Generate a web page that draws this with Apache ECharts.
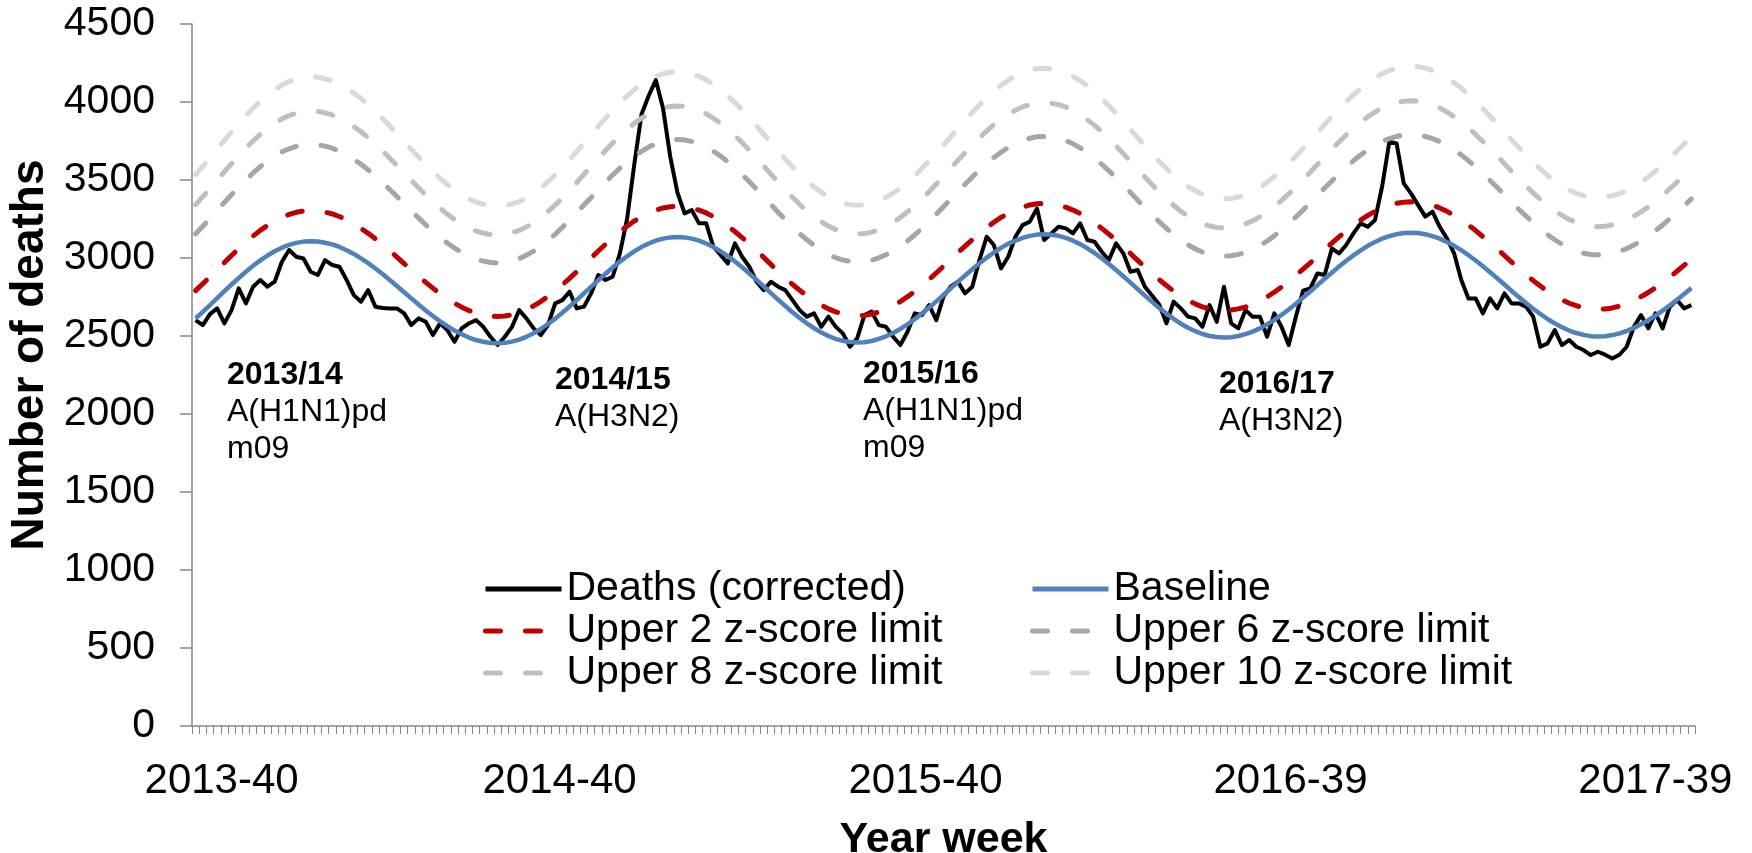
<!DOCTYPE html>
<html>
<head>
<meta charset="utf-8">
<script src="https://cdn.jsdelivr.net/npm/echarts@6/dist/echarts.min.js"></script>
<style>
html,body{margin:0;padding:0;background:#fff;}
#chart{width:1752px;height:853px;}
</style>
</head>
<body>
<div id="chart"></div>
<script>
const weeks = [
"2013-40","2013-41","2013-42","2013-43","2013-44","2013-45","2013-46","2013-47","2013-48","2013-49","2013-50","2013-51","2013-52",
"2014-01","2014-02","2014-03","2014-04","2014-05","2014-06","2014-07","2014-08","2014-09","2014-10","2014-11","2014-12","2014-13",
"2014-14","2014-15","2014-16","2014-17","2014-18","2014-19","2014-20","2014-21","2014-22","2014-23","2014-24","2014-25","2014-26",
"2014-27","2014-28","2014-29","2014-30","2014-31","2014-32","2014-33","2014-34","2014-35","2014-36","2014-37","2014-38","2014-39",
"2014-40","2014-41","2014-42","2014-43","2014-44","2014-45","2014-46","2014-47","2014-48","2014-49","2014-50","2014-51","2014-52",
"2015-01","2015-02","2015-03","2015-04","2015-05","2015-06","2015-07","2015-08","2015-09","2015-10","2015-11","2015-12","2015-13",
"2015-14","2015-15","2015-16","2015-17","2015-18","2015-19","2015-20","2015-21","2015-22","2015-23","2015-24","2015-25","2015-26",
"2015-27","2015-28","2015-29","2015-30","2015-31","2015-32","2015-33","2015-34","2015-35","2015-36","2015-37","2015-38","2015-39",
"2015-40","2015-41","2015-42","2015-43","2015-44","2015-45","2015-46","2015-47","2015-48","2015-49","2015-50","2015-51","2015-52","2015-53",
"2016-01","2016-02","2016-03","2016-04","2016-05","2016-06","2016-07","2016-08","2016-09","2016-10","2016-11","2016-12","2016-13",
"2016-14","2016-15","2016-16","2016-17","2016-18","2016-19","2016-20","2016-21","2016-22","2016-23","2016-24","2016-25","2016-26",
"2016-27","2016-28","2016-29","2016-30","2016-31","2016-32","2016-33","2016-34","2016-35","2016-36","2016-37","2016-38","2016-39",
"2016-40","2016-41","2016-42","2016-43","2016-44","2016-45","2016-46","2016-47","2016-48","2016-49","2016-50","2016-51","2016-52",
"2017-01","2017-02","2017-03","2017-04","2017-05","2017-06","2017-07","2017-08","2017-09","2017-10","2017-11","2017-12","2017-13",
"2017-14","2017-15","2017-16","2017-17","2017-18","2017-19","2017-20","2017-21","2017-22","2017-23","2017-24","2017-25","2017-26",
"2017-27","2017-28","2017-29","2017-30","2017-31","2017-32","2017-33","2017-34","2017-35","2017-36","2017-37","2017-38","2017-39"
];

const xTickLabels = ["2013-40","2014-40","2015-40","2016-39","2017-39"];

const deaths = [
2602,2570,2640,2677,2581,2666,2805,2709,2816,2859,
2816,2848,2976,3051,3008,2997,2912,2891,2987,2955,
2944,2859,2762,2720,2794,2688,2680,2677,2677,2645,
2570,2613,2591,2506,2581,2538,2463,2549,2580,2602,
2559,2495,2442,2495,2559,2666,2613,2549,2506,2570,
2709,2730,2784,2677,2688,2773,2891,2859,2880,3030,
3250,3600,3920,4040,4140,3960,3650,3420,3286,3307,
3222,3222,3072,3020,2965,3094,3008,2944,2848,2794,
2848,2816,2794,2730,2666,2624,2645,2559,2624,2560,
2517,2431,2485,2634,2656,2570,2559,2495,2442,2527,
2645,2634,2698,2602,2752,2816,2848,2773,2816,2987,
3136,3083,2933,3008,3136,3211,3233,3318,3115,3158,
3200,3190,3158,3222,3115,3104,3040,2987,3094,3030,
2912,2923,2816,2760,2700,2581,2720,2677,2624,2613,
2559,2698,2591,2816,2581,2549,2666,2624,2624,2495,
2645,2559,2442,2624,2790,2805,2901,2891,3061,3030,
3083,3158,3222,3200,3243,3460,3745,3735,3478,3414,
3339,3265,3297,3200,3126,3030,2859,2741,2741,2645,
2741,2677,2773,2709,2709,2688,2624,2431,2453,2538,
2442,2474,2431,2410,2378,2399,2380,2356,2380,2431,
2559,2634,2549,2645,2549,2688,2730,2677,2698
];

const baseline = [
2613,2655,2698,2743,2787,2830,2872,2912,2950,2985,
3016,3043,3066,3084,3097,3105,3108,3106,3098,3087,
3071,3050,3026,2998,2967,2933,2897,2859,2820,2780,
2741,2702,2664,2628,2594,2563,2535,2511,2490,2474,
2463,2455,2453,2456,2464,2477,2495,2518,2545,2577,
2611,2649,2689,2730,2773,2815,2858,2899,2939,2977,
3011,3043,3070,3093,3111,3124,3132,3135,3132,3124,
3111,3093,3070,3043,3012,2978,2941,2901,2860,2818,
2775,2733,2692,2652,2615,2581,2550,2523,2500,2482,
2469,2461,2458,2460,2468,2481,2498,2519,2545,2575,
2608,2644,2682,2722,2763,2805,2847,2888,2928,2966,
3002,3035,3065,3091,3112,3129,3142,3150,3152,3149,
3142,3129,3111,3089,3062,3032,2998,2962,2923,2883,
2842,2800,2759,2719,2680,2644,2610,2579,2553,2531,
2513,2500,2493,2490,2492,2500,2512,2528,2549,2574,
2603,2635,2670,2707,2746,2785,2826,2867,2906,2945,
2982,3017,3049,3078,3103,3124,3140,3152,3160,3162,
3160,3152,3140,3124,3103,3078,3050,3018,2984,2947,
2909,2870,2830,2789,2750,2712,2675,2641,2609,2581,
2556,2535,2519,2507,2499,2497,2499,2506,2517,2532,
2552,2575,2601,2631,2663,2697,2733,2770,2807
];

const upper2 = [
2791,2835,2879,2926,2971,3016,3060,3101,3141,3177,
3209,3237,3261,3279,3293,3301,3304,3302,3294,3283,
3266,3244,3219,3190,3158,3123,3086,3046,3006,2964,
2924,2883,2844,2807,2771,2739,2710,2685,2663,2647,
2635,2627,2625,2628,2637,2650,2669,2693,2721,2754,
2789,2828,2870,2912,2957,3001,3045,3088,3129,3168,
3204,3237,3265,3289,3307,3321,3329,3332,3329,3321,
3307,3289,3265,3237,3205,3170,3131,3090,3047,3004,
2959,2915,2873,2831,2793,2758,2726,2698,2674,2655,
2642,2633,2630,2632,2641,2654,2672,2694,2721,2752,
2786,2823,2863,2904,2947,2990,3034,3076,3118,3157,
3194,3229,3260,3287,3308,3326,3340,3348,3350,3347,
3340,3326,3307,3285,3257,3226,3190,3153,3113,3071,
3029,2985,2942,2901,2861,2823,2788,2756,2729,2706,
2687,2674,2667,2663,2666,2674,2686,2703,2725,2751,
2781,2814,2850,2889,2929,2969,3012,3054,3095,3135,
3174,3210,3243,3273,3299,3321,3338,3350,3358,3360,
3358,3350,3338,3321,3299,3273,3244,3211,3176,3137,
3098,3058,3016,2974,2933,2894,2855,2820,2787,2758,
2732,2710,2694,2681,2673,2671,2673,2680,2691,2707,
2728,2752,2779,2810,2843,2878,2915,2954,2992
];

const upper6 = [
3154,3203,3253,3305,3356,3406,3455,3501,3545,3586,
3622,3653,3680,3700,3716,3725,3728,3726,3717,3704,
3685,3661,3633,3601,3565,3525,3484,3439,3394,3348,
3303,3257,3213,3171,3132,3096,3064,3036,3011,2993,
2980,2971,2968,2972,2981,2996,3017,3044,3075,3112,
3152,3196,3242,3290,3340,3388,3438,3486,3532,3576,
3616,3653,3684,3711,3732,3747,3756,3760,3756,3747,
3732,3711,3684,3653,3617,3577,3535,3488,3441,3392,
3342,3293,3246,3199,3156,3117,3081,3050,3023,3002,
2987,2978,2974,2977,2986,3001,3021,3045,3075,3110,
3148,3190,3234,3281,3328,3377,3426,3473,3519,3564,
3605,3644,3678,3709,3733,3753,3768,3777,3779,3776,
3768,3753,3732,3706,3675,3640,3601,3559,3514,3467,
3420,3371,3323,3277,3232,3190,3151,3115,3084,3059,
3038,3023,3015,3011,3014,3023,3037,3055,3080,3109,
3142,3180,3220,3263,3308,3354,3401,3449,3494,3539,
3582,3623,3660,3693,3722,3747,3765,3779,3789,3791,
3789,3779,3765,3747,3722,3693,3661,3624,3584,3542,
3497,3452,3406,3358,3313,3269,3226,3187,3149,3117,
3088,3064,3045,3031,3022,3020,3022,3030,3043,3060,
3083,3110,3140,3175,3212,3252,3293,3336,3379
];

const upper8 = [
3342,3393,3445,3499,3553,3605,3656,3704,3751,3793,
3831,3863,3891,3913,3929,3939,3942,3940,3930,3917,
3897,3872,3843,3809,3771,3730,3686,3640,3593,3544,
3497,3450,3404,3360,3319,3281,3247,3218,3193,3173,
3160,3150,3148,3151,3161,3177,3199,3226,3259,3298,
3339,3385,3434,3484,3536,3587,3639,3689,3737,3783,
3824,3863,3896,3924,3946,3962,3971,3975,3971,3962,
3946,3924,3896,3863,3826,3784,3740,3691,3641,3590,
3538,3487,3438,3389,3344,3303,3265,3233,3205,3183,
3167,3157,3154,3156,3166,3182,3202,3228,3259,3296,
3336,3379,3425,3474,3524,3575,3626,3675,3724,3770,
3814,3854,3890,3922,3947,3968,3983,3993,3996,3992,
3983,3968,3946,3919,3886,3850,3809,3765,3718,3669,
3619,3569,3519,3470,3423,3379,3338,3300,3269,3242,
3220,3205,3196,3193,3195,3205,3219,3239,3264,3294,
3330,3368,3411,3456,3503,3550,3600,3650,3697,3744,
3789,3832,3871,3906,3936,3962,3981,3996,4005,4008,
4005,3996,3981,3962,3936,3906,3872,3833,3792,3747,
3701,3653,3605,3555,3508,3462,3417,3376,3337,3303,
3273,3247,3228,3213,3203,3201,3203,3212,3225,3243,
3268,3296,3327,3364,3402,3444,3487,3532,3577
];

const upper10 = [
3534,3588,3642,3699,3755,3809,3862,3913,3961,4005,
4045,4079,4108,4131,4147,4157,4161,4159,4148,4134,
4114,4088,4057,4022,3983,3940,3894,3846,3796,3746,
3696,3647,3599,3553,3510,3471,3436,3405,3379,3358,
3344,3334,3332,3336,3346,3362,3385,3414,3448,3489,
3532,3580,3631,3682,3737,3790,3845,3896,3947,3995,
4038,4079,4113,4142,4165,4181,4191,4195,4191,4181,
4165,4142,4113,4079,4039,3996,3950,3899,3847,3794,
3739,3686,3634,3584,3537,3494,3455,3420,3391,3369,
3352,3342,3338,3341,3351,3367,3389,3415,3448,3486,
3528,3574,3622,3672,3724,3777,3831,3883,3933,3981,
4027,4069,4107,4140,4166,4188,4204,4214,4217,4213,
4204,4188,4165,4137,4103,4065,4022,3976,3927,3876,
3824,3771,3719,3669,3619,3574,3531,3491,3458,3431,
3408,3391,3382,3379,3381,3391,3406,3427,3453,3485,
3522,3562,3607,3653,3703,3752,3804,3856,3905,3955,
4002,4046,4086,4123,4155,4181,4202,4217,4227,4229,
4227,4217,4202,4181,4155,4123,4088,4047,4004,3957,
3909,3860,3809,3757,3708,3660,3613,3570,3529,3494,
3462,3436,3415,3400,3390,3388,3390,3399,3413,3432,
3457,3486,3519,3557,3598,3641,3686,3733,3780
];

const seasonNames = ["2013/14","2014/15","2015/16","2016/17"];
const seasonViruses = [["A(H1N1)pd","m09"],["A(H3N2)"],["A(H1N1)pd","m09"],["A(H3N2)"]];

const FONT = "'Liberation Sans', Arial, Helvetica, sans-serif";
const chart = echarts.init(document.getElementById('chart'), null, {renderer:'canvas'});

const annPos = [[227,359],[555,364],[863,358],[1219,368]];
const graphics = seasonNames.map((s, i) => ({
  type: 'text',
  left: annPos[i][0],
  top: annPos[i][1],
  style: {
    text: '{b|' + s + '}\n' + seasonViruses[i].map(v => '{n|' + v + '}').join('\n'),
    fill: '#000',
    rich: {
      b: {fontFamily: FONT, fontSize: 32, fontWeight: 'bold', lineHeight: 37, fill:'#000'},
      n: {fontFamily: FONT, fontSize: 32, lineHeight: 37, fill:'#000'}
    }
  }
}));

const dash = [15, 25];
function lineSeries(name, data, color, width, dashed) {
  return {
    name, type: 'line', data,
    showSymbol: false, symbol: 'none',
    lineStyle: {color, width, type: dashed ? dash : 'solid', cap: dashed ? 'round' : 'butt', join:'round'},
    itemStyle: {color},
    emphasis: {disabled: true},
    z: 2
  };
}

const legendCommon = {
  orient: 'vertical',
  padding: 0,
  itemWidth: 76, itemHeight: 14, itemGap: 0,
  itemStyle: {opacity: 0},
  lineStyle: {width: 5},
  textStyle: {fontFamily: FONT, fontSize: 41, color: '#000', lineHeight: 42},
  selectedMode: false
};

// horizontal nudges of the tick labels, as placed in the original
const xLabelPad = [[0,0,0,52],[0,20,0,0],[0,36,0,0],[0,54,0,0],[0,72,0,0]];
const xLabelRich = {};
xLabelPad.forEach((p, i) => {
  xLabelRich['l' + i] = {fontFamily: FONT, fontSize: 42, color: '#000', padding: p};
});

chart.setOption({
  animation: false,
  backgroundColor: '#fff',
  textStyle: {fontFamily: FONT},
  grid: {left: 192, right: 57, top: 24, bottom: 127, containLabel: false, outerBoundsMode: 'none'},
  legend: [
    Object.assign({}, legendCommon, {left: 483, top: 568, data: ['Deaths (corrected)', 'Upper 2 z-score limit', 'Upper 8 z-score limit']}),
    Object.assign({}, legendCommon, {left: 1030, top: 568, data: ['Baseline', 'Upper 6 z-score limit', 'Upper 10 z-score limit']})
  ],
  xAxis: {
    type: 'category',
    data: weeks,
    boundaryGap: true,
    name: 'Year week',
    nameLocation: 'middle',
    nameGap: 93,
    nameTextStyle: {fontFamily: FONT, fontSize: 43, fontWeight: 'bold', color: '#000'},
    axisLine: {show: true, lineStyle: {color: '#868686', width: 1.5}},
    axisTick: {show: true, interval: 0, length: 8, lineStyle: {color: '#868686', width: 1}},
    axisLabel: {
      interval: (idx, val) => xTickLabels.includes(val),
      formatter: (val) => '{l' + xTickLabels.indexOf(val) + '|' + val + '}',
      rich: xLabelRich,
      hideOverlap: false,
      fontFamily: FONT, fontSize: 42, color: '#000', margin: 34
    },
    splitLine: {show: false}
  },
  yAxis: {
    type: 'value',
    min: 0, max: 4500, interval: 500,
    name: 'Number of deaths',
    nameLocation: 'middle',
    nameGap: 136,
    nameTextStyle: {fontFamily: FONT, fontSize: 46, fontWeight: 'bold', color: '#000', padding: [0,0,0,40]},
    axisLine: {show: true, lineStyle: {color: '#868686', width: 1.5}},
    axisTick: {show: true, length: 12, lineStyle: {color: '#868686', width: 1.5}},
    axisLabel: {fontFamily: FONT, fontSize: 41, color: '#000', margin: 37, formatter: (v) => String(v)},
    splitLine: {show: false}
  },
  graphic: graphics,
  series: [
    lineSeries('Deaths (corrected)', deaths, '#000000', 4, false),
    lineSeries('Baseline', baseline, '#4F81BD', 4.5, false),
    lineSeries('Upper 2 z-score limit', upper2, '#C00000', 5, true),
    lineSeries('Upper 6 z-score limit', upper6, '#A6A6A6', 5, true),
    lineSeries('Upper 8 z-score limit', upper8, '#BFBFBF', 5, true),
    lineSeries('Upper 10 z-score limit', upper10, '#D9D9D9', 5, true)
  ]
});
</script>
</body>
</html>
